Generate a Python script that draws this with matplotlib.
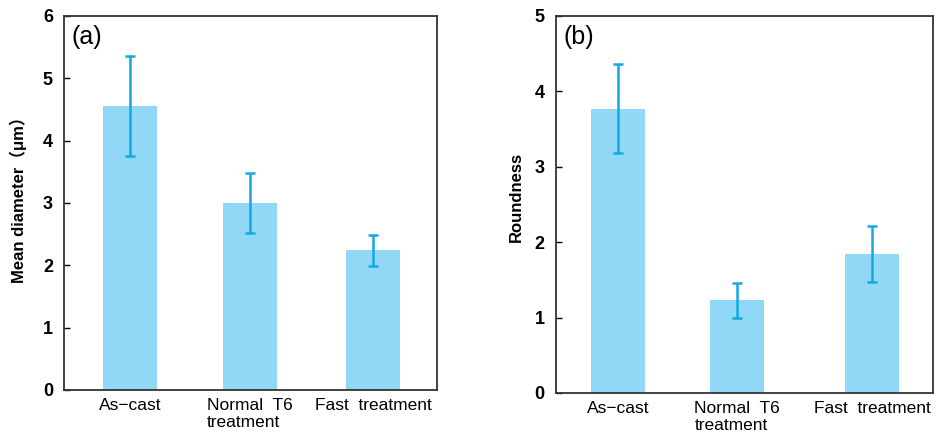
import matplotlib.pyplot as plt
import numpy as np

plt.rcParams['font.family'] = ['Liberation Sans', 'Noto Sans CJK SC', 'DejaVu Sans']

categories = ["As\u2212cast", "Normal  T6\ntreatment", "Fast  treatment"]

# (a) mean diameter
diam = [4.55, 3.0, 2.24]
diam_err = [0.80, 0.48, 0.25]

# (b) roundness
rnd = [3.77, 1.23, 1.84]
rnd_err = [0.59, 0.235, 0.37]

bar_color = '#90d8f6'
err_color = '#12a9e2'

fig = plt.figure(figsize=(9.36, 4.37), dpi=100)
ax1 = fig.add_axes([0.0684, 0.1076, 0.3985, 0.856])
ax2 = fig.add_axes([0.594, 0.1007, 0.4028, 0.8627])


def draw(ax, pos, vals, errs, ymax, xlim, label, panel, ylab_x):
    ax.bar(pos, vals, width=0.45, color=bar_color, zorder=1)
    ax.errorbar(pos, vals, yerr=errs, fmt='none', ecolor=err_color,
                elinewidth=1.8, capsize=3.5, capthick=1.8, zorder=2)
    ax.set_xlim(*xlim)
    ax.set_ylim(0, ymax)
    ax.set_yticks(range(ymax + 1))
    ax.tick_params(axis='y', direction='in', length=4, width=1, pad=8,
                   labelsize=13)
    for t in ax.get_yticklabels():
        t.set_fontweight('bold')
    ax.set_xticks(pos)
    ax.set_xticklabels(categories, fontsize=12.5, ha='center',
                       multialignment='left', linespacing=1.1)
    ax.tick_params(axis='x', length=0, pad=6)
    for s in ax.spines.values():
        s.set_linewidth(1.3)
        s.set_color('#333333')
    ax.set_ylabel(label, fontsize=12, fontweight='bold')
    ax.yaxis.set_label_coords(ylab_x, 0.52)
    ax.text(0.02, 0.975, panel, transform=ax.transAxes, fontsize=18,
            va='top', ha='left')


draw(ax1, [0, 1, 2.03], diam, diam_err, 6, (-0.55, 2.56),
     "Mean diameter\uff08\u03bcm\uff09", "(a)", -0.098)
draw(ax2, [0, 1, 2.13], rnd, rnd_err, 5, (-0.52, 2.64),
     "Roundness", "(b)", -0.084)

fig.savefig('out.png', dpi=100)
